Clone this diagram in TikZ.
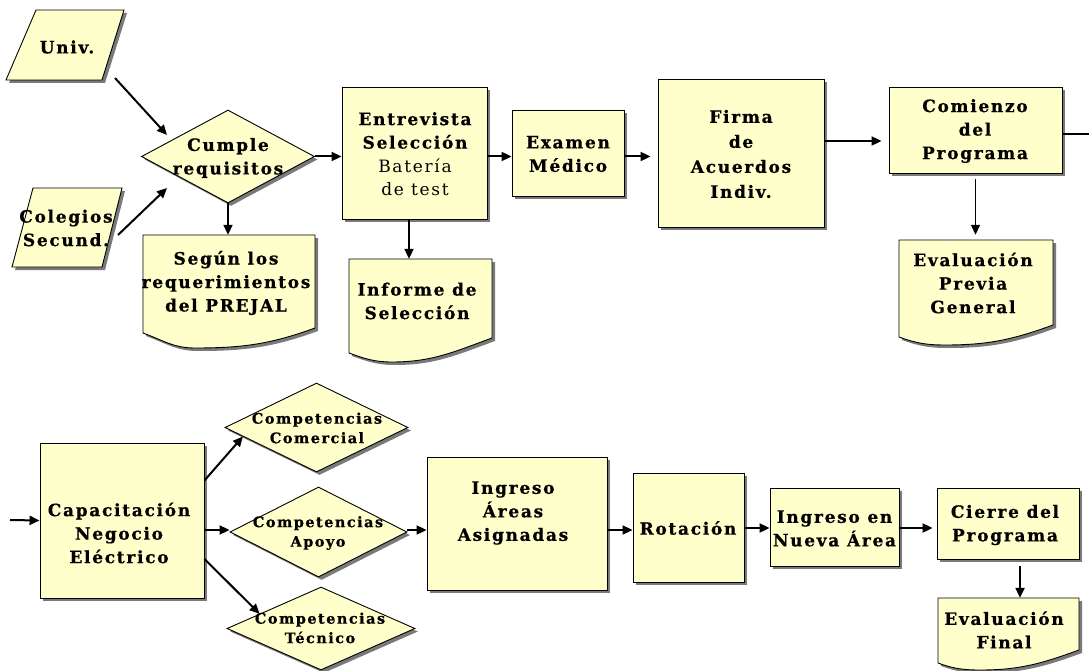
\documentclass[tikz,border=0pt]{standalone}
\usepackage{fontspec}
\setmainfont{DejaVu Serif}
\newfontfamily\spfont[LetterSpace=10, BoldFeatures={FakeBold=0.6}]{DejaVu Serif}
\usetikzlibrary{shapes.geometric,arrows.meta,shadows,calc}
\definecolor{boxfill}{HTML}{FFFFCC}
\definecolor{shad}{HTML}{7A7A7A}
\tikzset{
  shp/.style={draw=black, line width=0.9pt, fill=boxfill,
    drop shadow={shadow xshift=3pt, shadow yshift=-3pt, fill=shad, opacity=1}},
  box/.style={shp, rectangle, inner sep=0pt},
  dia/.style={shp, diamond, inner sep=0pt},
  txt/.style={align=center, inner sep=0pt, font=\spfont\bfseries\fontsize{17}{23.5}\selectfont},
  stxt/.style={align=center, inner sep=0pt, font=\spfont\bfseries\fontsize{14.5}{19.5}\selectfont},
  arr/.style={line width=2pt, -{Triangle[length=10pt,width=9pt]}},
  plain/.style={line width=2pt},
  outl/.style={draw=black, line width=0.9pt, fill=boxfill},
}
% document shape: #1 name, #2 x1, #3 top, #4 x2, #5 left end y, #6 dip y, #7 right end y
\newcommand\docshape[7]{%
  \pgfmathsetmacro\mydipx{#2+0.3*(#4-#2)}%
  \pgfmathsetmacro\mycx{(#2+#4)/2}%
  \pgfmathsetmacro\mycy{(#3+#6)/2}%
  \pgfmathsetmacro\myw{#4-#2}%
  \pgfmathsetmacro\myh{#6-#3}%
  \begin{scope}[shift={(3,3)}]
    \fill[shad] (#2,#3) -- (#4,#3) -- (#4,#7) to[out=200,in=0] (\mydipx,#6) to[out=180,in=-20] (#2,#5) -- cycle;
  \end{scope}
  \draw[outl] (#2,#3) -- (#4,#3) -- (#4,#7) to[out=200,in=0] (\mydipx,#6) to[out=180,in=-20] (#2,#5) -- cycle;
  \node[inner sep=0pt, minimum width=\myw pt, minimum height=\myh pt] (#1) at (\mycx,\mycy) {};
}
% parallelogram: #1..#8 four corners
\newcommand\paral[8]{%
  \begin{scope}[shift={(3,3)}]
    \fill[shad] (#1,#2) -- (#3,#4) -- (#5,#6) -- (#7,#8) -- cycle;
  \end{scope}
  \draw[outl] (#1,#2) -- (#3,#4) -- (#5,#6) -- (#7,#8) -- cycle;
}
\begin{document}
\begin{tikzpicture}[x=1pt,y=-1pt]
\useasboundingbox (0,0) rectangle (1089,671);
\fill[white] (0,0) rectangle (1089,671);

% ---------- top row ----------
\paral{36}{10}{124}{10}{102}{80}{6}{80}
\node[txt] (univ) at (67,47) {Univ.};
\paral{33}{188}{122}{188}{102}{267}{12}{267}
\node[txt] (colegios) at (66,228) {Colegios\\Secund.};

\node[dia, minimum width=173pt, minimum height=93pt] (cumple) at (228,156.5) {};
\node[txt] (tcumple) at (228,158) {Cumple\\requisitos};

\docshape{segun}{143}{235}{315}{333}{348}{328}
\node[txt] (tsegun) at (226,283) {Según los\\requerimientos\\del PREJAL};

\node[box, minimum width=145pt, minimum height=132pt] (entrevista) at (414.5,153) {};
\node[txt] (tentrevista) at (415,154) {Entrevista\\Selección\\{\mdseries Batería}\\{\mdseries de test}};

\node[box, minimum width=112pt, minimum height=86pt] (examen) at (568,153) {};
\node[txt] (texamen) at (568,154) {Examen\\Médico};

\docshape{informe}{349}{259}{492}{353}{362}{338}
\node[txt] (tinforme) at (417,301) {Informe de\\Selección};

\node[box, minimum width=166pt, minimum height=148pt] (firma) at (741,153) {};
\node[txt, font=\spfont\bfseries\fontsize{17}{25}\selectfont] (tfirma) at (741,154) {Firma\\de\\Acuerdos\\Indiv.};

\node[box, minimum width=173pt, minimum height=86pt] (comienzo) at (975.5,130) {};
\node[txt] (tcomienzo) at (975,131) {Comienzo\\del\\Programa};

\docshape{evalprev}{899}{240}{1053}{337}{345}{325}
\node[txt] (tevalprev) at (973,283) {Evaluación\\Previa\\General};

\coordinate (univout) at (115,78);
\coordinate (univin) at (167,135);
\coordinate (colout) at (118,235);
\coordinate (colin) at (167,188);
\coordinate (offR) at (1089,134);
\coordinate (offL) at (10,520);

\draw[arr] (univout) -- (univin);
\draw[arr] (colout) -- (colin);
\draw[arr] (cumple.east) -- (cumple.east -| entrevista.west);
\draw[arr] (cumple.south) -- (cumple.south |- segun.north);
\draw[arr] (entrevista.east |- cumple.east) -- (examen.west |- cumple.east);
\draw[arr, shorten >=7pt] (examen.east |- cumple.east) -- (firma.west |- cumple.east);
\draw[arr] ([xshift=-5.5pt]entrevista.south) -- ([xshift=-5.5pt]entrevista.south |- informe.north);
\draw[arr, shorten >=7pt] ([yshift=12pt]firma.east) -- ([yshift=12pt]firma.east -| comienzo.west);
\draw[plain] ([yshift=-4pt]comienzo.east) -- (offR);
\draw[arr, line width=1.4pt, shorten <=6pt, shorten >=5pt] (comienzo.south) -- (comienzo.south |- evalprev.north);

% ---------- bottom row ----------
\node[box, minimum width=164pt, minimum height=155pt] (cap) at (122,520.5) {};
\node[txt] (tcap) at (119,533) {Capacitación\\Negocio\\Eléctrico};

\node[dia, minimum width=183pt, minimum height=89pt] (comercial) at (316.5,427.5) {};
\node[stxt] (tcomercial) at (317,428) {Competencias\\Comercial};
\node[dia, minimum width=177pt, minimum height=90pt] (apoyo) at (318.5,532) {};
\node[stxt] (tapoyo) at (318,533) {Competencias\\Apoyo};
\node[dia, minimum width=188pt, minimum height=83pt] (tecnico) at (321,628.5) {};
\node[stxt] (ttecnico) at (320,628) {Competencias\\Técnico};

\node[box, minimum width=180pt, minimum height=133pt] (inga) at (517,523.5) {};
\node[txt] (tinga) at (513,513) {Ingreso\\Áreas\\Asignadas};

\node[box, minimum width=111pt, minimum height=109pt] (rot) at (688.5,527.5) {};
\node[txt] (trot) at (688,528) {Rotación};

\node[box, minimum width=129pt, minimum height=78pt] (nueva) at (834.5,527) {};
\node[txt] (tnueva) at (834.5,528.5) {Ingreso en\\Nueva Área};

\node[box, minimum width=142pt, minimum height=71pt] (cierre) at (1008,523.5) {};
\node[txt] (tcierre) at (1005,525) {Cierre del\\Programa};

\docshape{evalfin}{938}{598}{1079}{663}{670}{650}
\node[txt] (tevalfin) at (1004,630) {Evaluación\\Final};

\draw[arr] (offL) -- (cap.west);
\draw[arr] ([yshift=40pt]cap.east) -- ($(comercial.west)!0.2!(comercial.south)$);
\draw[arr] ([yshift=-9.5pt]cap.east) -- ([yshift=-9.5pt]cap.east -| apoyo.west);
\draw[arr] ([yshift=-38.5pt]cap.east) -- ($(tecnico.west)!0.35!(tecnico.north)$);
\draw[arr] (apoyo.east |- 0,530) -- (inga.west |- 0,530);
\draw[arr] (inga.east |- 0,530) -- (rot.west |- 0,530);
\draw[arr] (rot.east |- 0,528) -- (nueva.west |- 0,528);
\draw[arr, shorten >=4pt] (nueva.east |- 0,528) -- (cierre.west |- 0,528);
\draw[arr, line width=2.2pt, shorten <=7pt] ([xshift=12pt]cierre.south) -- ([xshift=12pt]cierre.south |- evalfin.north);
\end{tikzpicture}
\end{document}
